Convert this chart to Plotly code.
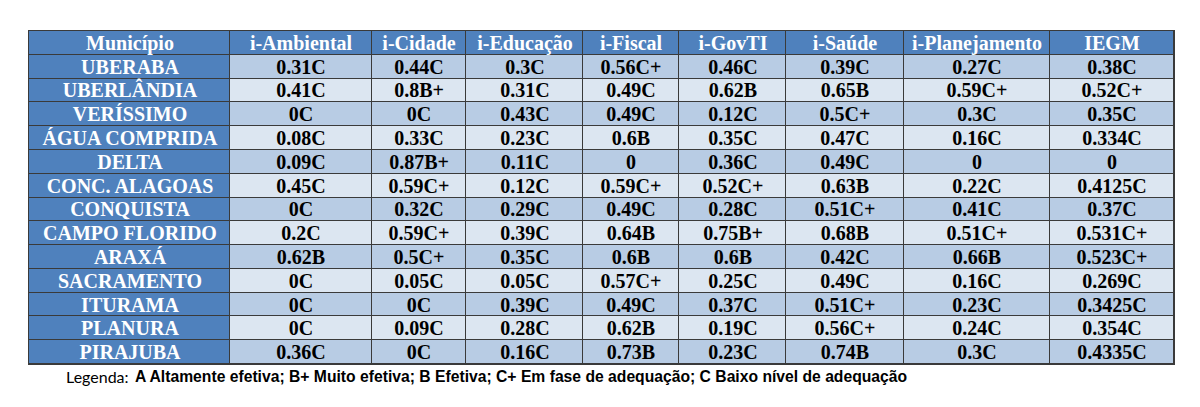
import plotly.graph_objects as go

headers = ["Município", "i-Ambiental", "i-Cidade", "i-Educação", "i-Fiscal",
           "i-GovTI", "i-Saúde", "i-Planejamento", "IEGM"]
municipios = ["UBERABA", "UBERLÂNDIA", "VERÍSSIMO", "ÁGUA COMPRIDA", "DELTA",
              "CONC. ALAGOAS", "CONQUISTA", "CAMPO FLORIDO", "ARAXÁ",
              "SACRAMENTO", "ITURAMA", "PLANURA", "PIRAJUBA"]
i_ambiental = ["0.31C", "0.41C", "0C", "0.08C", "0.09C", "0.45C", "0C", "0.2C",
               "0.62B", "0C", "0C", "0C", "0.36C"]
i_cidade = ["0.44C", "0.8B+", "0C", "0.33C", "0.87B+", "0.59C+", "0.32C",
            "0.59C+", "0.5C+", "0.05C", "0C", "0.09C", "0C"]
i_educacao = ["0.3C", "0.31C", "0.43C", "0.23C", "0.11C", "0.12C", "0.29C",
              "0.39C", "0.35C", "0.05C", "0.39C", "0.28C", "0.16C"]
i_fiscal = ["0.56C+", "0.49C", "0.49C", "0.6B", "0", "0.59C+", "0.49C", "0.64B",
            "0.6B", "0.57C+", "0.49C", "0.62B", "0.73B"]
i_govti = ["0.46C", "0.62B", "0.12C", "0.35C", "0.36C", "0.52C+", "0.28C",
           "0.75B+", "0.6B", "0.25C", "0.37C", "0.19C", "0.23C"]
i_saude = ["0.39C", "0.65B", "0.5C+", "0.47C", "0.49C", "0.63B", "0.51C+",
           "0.68B", "0.42C", "0.49C", "0.51C+", "0.56C+", "0.74B"]
i_planejamento = ["0.27C", "0.59C+", "0.3C", "0.16C", "0", "0.22C", "0.41C",
                  "0.51C+", "0.66B", "0.16C", "0.23C", "0.24C", "0.3C"]
iegm = ["0.38C", "0.52C+", "0.35C", "0.334C", "0", "0.4125C", "0.37C",
        "0.531C+", "0.523C+", "0.269C", "0.3425C", "0.354C", "0.4335C"]
legenda_label = "Legenda:"
legenda_text = ("A Altamente efetiva; B+ Muito efetiva; B Efetiva; "
                "C+ Em fase de adequação; C Baixo nível de adequação")

columns = [municipios, i_ambiental, i_cidade, i_educacao, i_fiscal,
           i_govti, i_saude, i_planejamento, iegm]

# layout (style) settings
col_widths = [201, 142, 94, 117, 96, 107, 118, 146, 124]
BLUE = "#4F81BD"
DARK = "#B8CCE4"
LIGHT = "#DCE6F1"
LINE = "#3A3A3A"

n_rows = len(municipios) + 1
n_cols = len(headers)

# full text grid (header row + data rows)
text = [headers] + [[col[i] for col in columns] for i in range(len(municipios))]

# colour class grid: 0 = blue, 1 = dark band, 2 = light band
z = [[0] * n_cols]
for i in range(len(municipios)):
    band = 1 if i % 2 == 0 else 2
    z.append([0] + [band] * (n_cols - 1))

# split: blue cells (white text) and band cells (black text)
text_blue = [[t if c == 0 else "" for t, c in zip(tr, zr)] for tr, zr in zip(text, z)]
z_band = [[None if c == 0 else c for c in zr] for zr in z]
text_band = [[t if c != 0 else "" for t, c in zip(tr, zr)] for tr, zr in zip(text, z)]

x_edges = [0]
for w in col_widths:
    x_edges.append(x_edges[-1] + w)
y_edges = list(range(n_rows + 1))

# page body has an 8px default margin, so offsets are compensated here
OFF = 8
W, H = 1200, 407
L, T = 29 - OFF, 31 - OFF
R = W - (1174 - OFF)
B = H - (364 - OFF)

cscale = [[0, BLUE], [0.5, DARK], [1, LIGHT]]
fig = go.Figure()
fig.add_trace(go.Heatmap(
    z=z, x=x_edges, y=y_edges, text=text_blue,
    texttemplate="<b>%{text}</b>",
    textfont=dict(family="Liberation Serif", size=20, color="white"),
    colorscale=cscale, zmin=0, zmax=2, showscale=False, xgap=1, ygap=1,
    hoverinfo="skip",
))
fig.add_trace(go.Heatmap(
    z=z_band, x=x_edges, y=y_edges, text=text_band,
    texttemplate="<b>%{text}</b>",
    textfont=dict(family="Liberation Serif", size=20, color="black"),
    colorscale=cscale, zmin=0, zmax=2, showscale=False, xgap=1, ygap=1,
    hoverinfo="skip",
))

fig.update_xaxes(range=[0, x_edges[-1]], showgrid=False, zeroline=False,
                 showticklabels=False, ticks="", showline=True, mirror=True,
                 linecolor=LINE, linewidth=1, fixedrange=True)
fig.update_yaxes(range=[n_rows, 0], showgrid=False, zeroline=False,
                 showticklabels=False, ticks="", showline=True, mirror=True,
                 linecolor=LINE, linewidth=1, fixedrange=True)

pw = W - L - R
ph = H - T - B
leg_y = (H - B - (376 - OFF)) / ph
fig.add_annotation(x=(131 - OFF - L) / pw, xref="paper", y=leg_y, yref="paper",
                   text=legenda_label, showarrow=False, xanchor="right",
                   yanchor="middle",
                   font=dict(family="Lato", size=16, color="black"))
fig.add_annotation(x=(133 - OFF - L) / pw, xref="paper", y=leg_y, yref="paper",
                   text="<b>%s</b>" % legenda_text, showarrow=False,
                   xanchor="left", yanchor="middle",
                   font=dict(family="Liberation Sans", size=15.7, color="black"))

fig.update_layout(width=W, height=H, margin=dict(l=L, r=R, t=T, b=B, pad=0),
                  paper_bgcolor="white", plot_bgcolor=LINE)
fig.write_html("out.html")
